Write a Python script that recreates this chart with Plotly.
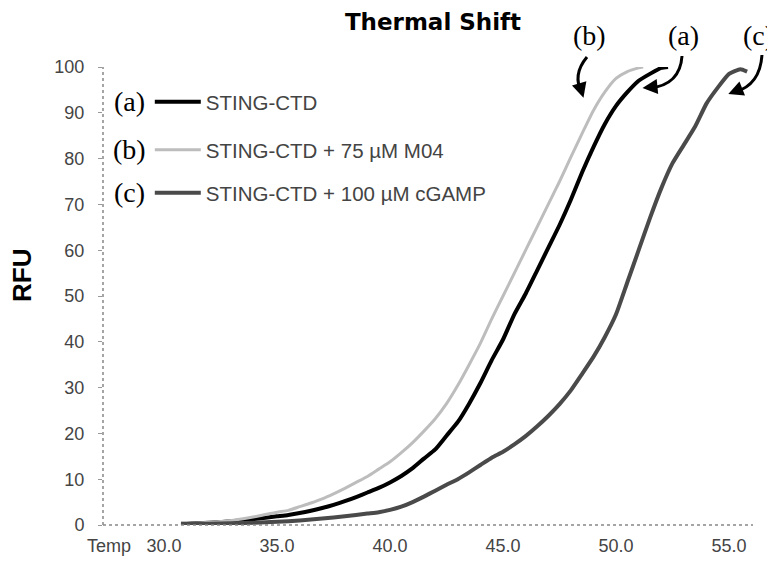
import plotly.graph_objects as go

# ---- data ----
temp_a = [30.75, 31, 32, 33, 34, 35, 35.5, 36, 36.5, 37, 37.5, 38, 38.5, 39, 39.5, 40,
          40.5, 41, 41.5, 42, 42.5, 43, 43.5, 44, 44.5, 45, 45.5, 46, 46.5, 47, 47.5, 48,
          48.5, 49, 49.5, 50, 50.5, 51, 51.5, 52, 52.3]
rfu_a = [0.3, 0.3, 0.5, 0.8, 1.3, 1.9, 2.2, 2.6, 3.1, 3.7, 4.4, 5.2, 6.1, 7.1, 8.1, 9.3,
         10.7, 12.4, 14.5, 16.5, 19.5, 22.5, 26.5, 31, 36, 40.5, 46, 50.5, 55.5, 60.5, 65.5, 71,
         77, 82.5, 87.5, 91.5, 94.5, 97, 98.5, 99.8, 100]

temp_b = [30.75, 31, 32, 33, 34, 35, 35.5, 36, 36.5, 37, 37.5, 38, 38.5, 39, 39.5, 40,
          40.5, 41, 41.5, 42, 42.5, 43, 43.5, 44, 44.5, 45, 45.5, 46, 46.5, 47, 47.5, 48,
          48.5, 49, 49.5, 50, 50.5, 51, 51.2]
rfu_b = [0.3, 0.3, 0.6, 1.0, 1.8, 2.8, 3.2, 4.0, 4.8, 5.7, 6.8, 8.0, 9.3, 10.6, 12.2, 13.8,
         15.8, 18, 20.5, 23.2, 26.5, 30.5, 35, 39.7, 45, 50, 55, 60, 65, 70, 75, 80.3,
         85.5, 90.5, 94.5, 97.5, 99, 99.8, 100]

temp_c = [30.75, 31, 32, 33, 34, 35, 36, 37, 38, 39, 39.5, 40, 40.5, 41, 41.5, 42, 42.5,
          43, 43.5, 44, 44.5, 45, 45.5, 46, 46.5, 47, 47.5, 48, 48.5, 49, 49.5, 50, 50.5,
          51, 51.5, 52, 52.5, 53, 53.5, 54, 54.5, 55, 55.5, 55.8]
rfu_c = [0.2, 0.2, 0.3, 0.4, 0.5, 0.7, 1.0, 1.4, 1.9, 2.5, 2.8, 3.3, 4.0, 5.0, 6.2, 7.5, 8.8,
         10.0, 11.5, 13.1, 14.7, 16.0, 17.6, 19.4, 21.5, 23.8, 26.4, 29.4, 33, 36.7, 41, 46, 53,
         60, 67, 73.5, 79, 83, 87, 92, 95.5, 98.5, 99.5, 99]

series_names = ["STING-CTD", "STING-CTD + 75 \u00b5M M04", "STING-CTD + 100 \u00b5M cGAMP"]
series_tags = ["(a)", "(b)", "(c)"]

x_tickvals = [27.57, 30, 35, 40, 45, 50, 55]
x_ticktext = ["Temp", "30.0", "35.0", "40.0", "45.0", "50.0", "55.0"]
y_tickvals = [0, 10, 20, 30, 40, 50, 60, 70, 80, 90, 100]

# ---- figure ----
W, H = 767, 556  # page body adds an 8 px offset
fig = go.Figure()
fig.add_trace(go.Scatter(x=temp_a, y=rfu_a, mode="lines", name=series_names[0],
                         line=dict(color="#000000", width=4, shape="spline", smoothing=0.5),
                         legend="legend"))
fig.add_trace(go.Scatter(x=temp_b, y=rfu_b, mode="lines", name=series_names[1],
                         line=dict(color="#bdbdbd", width=3, shape="spline", smoothing=0.5),
                         legend="legend2"))
fig.add_trace(go.Scatter(x=temp_c, y=rfu_c, mode="lines", name=series_names[2],
                         line=dict(color="#4a4a4a", width=4, shape="spline", smoothing=0.5),
                         legend="legend3"))

legend_font = dict(family="Liberation Sans, Arial, sans-serif", size=20.5, color="#444")
leg_common = dict(x=0.072, xanchor="left", yanchor="middle", bgcolor="rgba(0,0,0,0)",
                  font=legend_font, itemwidth=46, borderwidth=0)
legend_y = [0.9236, 0.8188, 0.7249]

tick_font = dict(family="Liberation Sans, Arial, sans-serif", size=18, color="#444")

fig.update_layout(
    width=W, height=H,
    margin=dict(l=95, r=22, t=59, b=39, autoexpand=False),
    paper_bgcolor="white", plot_bgcolor="white",
    title=dict(text="<b>Thermal Shift</b>", x=425 / W, xanchor="center", y=1 - 14 / H,
               yanchor="middle",
               font=dict(family="DejaVu Sans, Arial, sans-serif", size=23, color="#000")),
    showlegend=True,
    legend=dict(y=legend_y[0], **leg_common),
    legend2=dict(y=legend_y[1], **leg_common),
    legend3=dict(y=legend_y[2], **leg_common),
    xaxis=dict(range=[27.30, 56.06], tickvals=x_tickvals, ticktext=x_ticktext,
               showgrid=False, zeroline=False, showline=False, automargin=False,
               ticks="", ticklabelstandoff=8, tickfont=tick_font),
    yaxis=dict(range=[0, 100], tickvals=y_tickvals, showgrid=False, zeroline=False,
               showline=False, automargin=False, ticks="outside", ticklen=4,
               tickcolor="#999", ticklabelstandoff=10, tickfont=tick_font),
)

# y axis title
fig.add_annotation(text="<b>RFU</b>", xref="paper", yref="paper", x=(22 - 103) / 650,
                   y=(525 - 276) / 458, textangle=-90, showarrow=False,
                   xanchor="center", yanchor="middle",
                   font=dict(family="Liberation Sans, Arial, sans-serif", size=26, color="#000"))

# dotted axis lines
fig.add_shape(type="line", xref="paper", yref="paper", x0=0, x1=0, y0=0, y1=1,
              line=dict(color="#888", width=1.5, dash="dot"))
fig.add_shape(type="line", xref="paper", yref="paper", x0=0, x1=1, y0=0, y1=0,
              line=dict(color="#888", width=1.5, dash="dot"))

# legend tags (a), (b), (c)
serif = dict(family="Liberation Serif, Times New Roman, serif", size=28, color="#000")
for tag, yy in zip(series_tags, legend_y):
    fig.add_annotation(text=tag, xref="paper", yref="paper", x=0.0415, y=yy,
                       showarrow=False, font=serif, xanchor="center", yanchor="middle")

# top callouts with curved arrows
callouts = [
    # tag, label x, curve start, control, end, tip, ax, ay
    ("(b)", 0.7492, (0.7446, 1.0218), (0.7215, 0.9825), (0.7369, 0.9432), (0.7392, 0.9330), -3, -10),
    ("(a)", 0.8938, (0.8908, 1.0240), (0.8877, 0.9607), (0.8415, 0.9541), (0.8300, 0.9541), 10, -1),
    ("(c)", 1.0092, (1.0138, 1.0262), (1.0108, 0.9607), (0.9723, 0.9454), (0.9620, 0.9410), 10, -4),
]
for tag, lx, s, c, e, tip, ax, ay in callouts:
    fig.add_annotation(text=tag, xref="paper", yref="paper", x=lx, y=1.0677,
                       showarrow=False, font=serif, xanchor="center", yanchor="middle")
    fig.add_shape(type="path", xref="paper", yref="paper",
                  path=f"M {s[0]} {s[1]} Q {c[0]} {c[1]} {e[0]} {e[1]}",
                  line=dict(color="#000", width=3))
    fig.add_annotation(text="", xref="paper", yref="paper", x=tip[0], y=tip[1],
                       showarrow=True, arrowhead=2, arrowsize=1, arrowwidth=3,
                       arrowcolor="#000", ax=ax, ay=ay, standoff=0)

fig.write_html("out.html")
